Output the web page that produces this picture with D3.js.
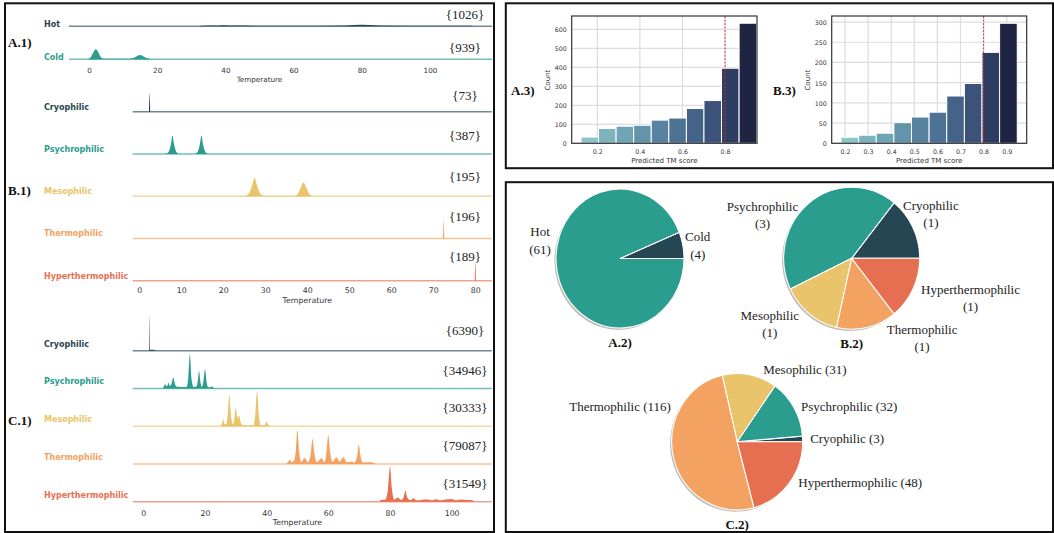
<!DOCTYPE html>
<html>
<head>
<meta charset="utf-8">
<script src="https://cdn.jsdelivr.net/npm/d3@7"></script>
<style>
  body { margin: 0; background: #fff; }
  svg { display: block; }
</style>
</head>
<body>
<svg id="fig" width="1054" height="533"></svg>
<script>
// ---------- data ----------
const classNames = ["Cryophilic", "Psychrophilic", "Mesophilic", "Thermophilic", "Hyperthermophilic"];
const classColors = ["#264653", "#2a9d8f", "#e9c46a", "#f4a261", "#e76f51"];

// A.1 ridge: [temperature, relative density]
const hotColdNames = ["Hot", "Cold"];
const hotColdCounts = [1026, 939];
const hotDensity = [[32,0],[33,0.06],[38,0.08],[40,0.1],[43,0.07],[60,0.06],[75,0.08],[80,0.15],[85,0.08],[100,0.06],[112,0.06],[113,0]];
const coldDensity = [[-0.5,0],[0.5,0.2],[1.3,0.7],[2,1],[2.7,0.7],[3.5,0.2],[4.5,0.05],[12,0.05],[13.5,0.2],[15,0.42],[16.5,0.18],[18,0.04],[20,0]];
const aTicks = [0, 20, 40, 60, 80, 100];

// B.1 ridge
const bCounts = [73, 387, 195, 196, 189];
const bCryo = [[2.3,0],[2.45,1],[2.6,0]];
const bPsychro = [[6.3,0],[7,0.12],[7.5,0.5],[7.9,1],[8.3,0.5],[8.8,0.12],[9.5,0],[13.2,0],[13.9,0.12],[14.4,0.5],[14.8,1],[15.2,0.5],[15.7,0.12],[16.4,0]];
const bMeso = [[25,0],[26,0.12],[26.8,0.55],[27.45,1],[28.1,0.55],[28.9,0.12],[30,0.01],[36.8,0.01],[37.7,0.1],[38.4,0.45],[39.1,0.75],[39.8,0.45],[40.5,0.1],[41.5,0]];
const bThermo = [[72.3,0],[72.45,1],[72.6,0]];
const bHyper = [[79.85,0],[80,1],[80.15,0]];
const bTicks = [0, 10, 20, 30, 40, 50, 60, 70, 80];

// C.1 ridge
const cCounts = [6390, 34946, 30333, 79087, 31549];
const cCryo = [[1.9,0],[2.04,1],[2.2,0.03],[3.6,0.03],[3.8,0]];
const cPsychro = [[6.3,0],[6.7,0.06],[7.1,0.13],[7.5,0.06],[7.9,0.1],[8.2,0.16],[8.6,0.07],[9.2,0.15],[9.7,0.31],[10.2,0.15],[10.8,0.05],[14,0.04],[14.6,0.3],[15.1,0.98],[15.6,0.3],[16.3,0.04],[17.3,0.06],[17.7,0.25],[18.1,0.5],[18.5,0.2],[19,0.05],[19.5,0.2],[20,0.55],[20.5,0.2],[21,0.04],[21.8,0.03],[22.2,0.06],[22.6,0.03],[23.8,0]];
const cMeso = [[25.2,0],[25.6,0.1],[25.9,0.2],[26.3,0.08],[26.9,0.05],[27.4,0.35],[27.9,0.9],[28.4,0.35],[29,0.05],[29.5,0.2],[30,0.52],[30.5,0.25],[31.1,0.3],[31.6,0.1],[32.5,0.03],[35.7,0.03],[36.3,0.3],[36.9,1],[37.5,0.3],[38.1,0.03],[39.3,0.03],[40,0.13],[40.6,0.03],[41,0]];
const cThermo = [[46.4,0],[47,0.06],[47.5,0.12],[48.1,0.05],[48.9,0.1],[49.5,0.4],[50,0.98],[50.5,0.4],[51.2,0.06],[52.4,0.17],[53.4,0.05],[54.3,0.3],[54.9,0.72],[55.5,0.3],[56.3,0.05],[57.8,0.16],[58.8,0.05],[59.4,0.35],[60,0.82],[60.6,0.35],[61.4,0.06],[62.6,0.19],[63.7,0.06],[64.9,0.19],[66,0.05],[67.4,0.06],[68.4,0.04],[69.4,0.25],[69.9,0.55],[70.4,0.25],[71.2,0.04],[72.5,0.05],[74,0.05],[75.3,0]];
const cHyper = [[76.6,0],[77,0.05],[78.5,0.06],[79.4,0.4],[80,1],[80.6,0.4],[81.4,0.06],[82.6,0.12],[83.6,0.05],[84.4,0.12],[85,0.31],[85.6,0.12],[86.6,0.04],[87.6,0.1],[88.6,0.04],[90,0.05],[92,0.06],[93.5,0.04],[95,0.07],[96.5,0.04],[98,0.06],[100,0.08],[101.5,0.04],[103,0.06],[105,0.05],[106.5,0.05],[107.3,0]];
const cTicks = [0, 20, 40, 60, 80, 100];

// A.3 / B.3 histograms of predicted TM score
const a3Counts = [33, 78, 90, 95, 122, 133, 183, 225, 395, 632];
const a3BinStart = 0.1235, a3BinWidth = 0.0825;
const a3XTicks = [0.2, 0.4, 0.6, 0.8];
const a3YTicks = [0, 100, 200, 300, 400, 500, 600];
const b3Counts = [15, 20, 25, 51, 65, 77, 117, 148, 225, 297];
const b3BinStart = 0.1827, b3BinWidth = 0.0763;
const b3XTicks = [0.2, 0.3, 0.4, 0.5, 0.6, 0.7, 0.8, 0.9];
const b3YTicks = [0, 50, 100, 150, 200, 250, 300];
const tmThreshold = 0.8;
const barColors = ["#8ec3c7","#7db3bc","#6ea4b3","#6294aa","#57839f","#4e7294","#456288","#3b5279","#2d3c61","#1f2442"];

// pies
const a2Labels = ["Cold", "Hot"];
const a2Values = [4, 61];
const a2Colors = ["#264653", "#2a9d8f"];
const b2Values = [1, 3, 1, 1, 1];
const c2Values = [3, 32, 31, 116, 48];

// ---------- drawing ----------
const svg = d3.select("#fig");
svg.append("rect").attr("width", 1054).attr("height", 533).attr("fill", "#fff");

const serif = "'Liberation Serif', 'DejaVu Serif', serif";
const sans = "'DejaVu Sans', sans-serif";

// panel frames
[[5, 3.3, 489, 528.7], [505.8, 3.3, 547.2, 164.9], [505.8, 182.2, 547.2, 349.8]].forEach(r => {
    svg.append("rect")
        .attr("x", r[0]).attr("y", r[1]).attr("width", r[2]).attr("height", r[3])
        .attr("fill", "none").attr("stroke", "#111").attr("stroke-width", 2);
});

function panelLabel(text, x, y, anchor) {
    svg.append("text")
        .attr("x", x).attr("y", y)
        .attr("text-anchor", anchor || "start")
        .attr("dominant-baseline", "central")
        .style("font-family", serif).style("font-weight", "bold").style("font-size", "13px")
        .attr("fill", "#111")
        .text(text);
}

function ridgePanel(cfg) {
    const x = d3.scaleLinear().domain(cfg.domain).range([cfg.x0, cfg.x1]);
    const g = svg.append("g");

    cfg.rows.forEach((row, i) => {
        const base = cfg.base0 + i * cfg.step;
        const y = d3.scaleLinear().domain([0, 1]).range([base, base - cfg.peakH]);
        const area = d3.area()
            .x(d => x(d[0]))
            .y0(base)
            .y1(d => y(d[1]))
            .curve(d3.curveMonotoneX);

        g.append("path")
            .datum(row.density)
            .attr("d", area)
            .attr("fill", row.color);

        g.append("line")
            .attr("x1", cfg.x0).attr("x2", cfg.x1)
            .attr("y1", base).attr("y2", base)
            .attr("stroke", row.color)
            .attr("stroke-opacity", 0.65)
            .attr("stroke-width", 1.5);

        g.append("text")
            .attr("x", 44).attr("y", base + cfg.labelDy)
            .attr("dominant-baseline", "central")
            .style("font-family", sans).style("font-weight", "bold").style("font-size", "8px")
            .attr("fill", row.color)
            .text(row.name);

        g.append("text")
            .attr("x", 465).attr("y", base + cfg.countDy(i))
            .attr("text-anchor", "middle")
            .attr("dominant-baseline", "central")
            .style("font-family", serif).style("font-size", "13px")
            .attr("fill", "#222")
            .text("{" + row.count + "}");
    });

    const ax = g.append("g")
        .attr("transform", `translate(0,${cfg.tickY})`)
        .call(d3.axisBottom(x).tickValues(cfg.ticks).tickSize(0).tickPadding(0));
    ax.select(".domain").remove();
    ax.selectAll("text")
        .attr("dy", null).attr("y", 0)
        .attr("dominant-baseline", "central")
        .style("font-family", sans).style("font-size", cfg.font + "px")
        .attr("fill", "#333");

    g.append("text")
        .attr("x", (x(cfg.ticks[0]) + x(cfg.ticks[cfg.ticks.length - 1])) / 2)
        .attr("y", cfg.titleY)
        .attr("text-anchor", "middle")
        .attr("dominant-baseline", "central")
        .style("font-family", sans).style("font-size", cfg.font + "px")
        .attr("fill", "#333")
        .text("Temperature");
}

ridgePanel({
    domain: [-5.87, 118.2], x0: 69, x1: 492,
    base0: 26.3, step: 33, peakH: 10, labelDy: -1.5,
    countDy: () => -11.6, tickY: 70.7, titleY: 79.3, font: 7.2, ticks: aTicks,
    rows: [
        { name: hotColdNames[0], color: classColors[0], density: hotDensity, count: hotColdCounts[0] },
        { name: hotColdNames[1], color: classColors[1], density: coldDensity, count: hotColdCounts[1] }
    ]
});

const bDens = [bCryo, bPsychro, bMeso, bThermo, bHyper];
ridgePanel({
    domain: [-1.57, 83.9], x0: 132.7, x1: 491.7,
    base0: 111.7, step: 42.25, peakH: 18.3, labelDy: -4.5,
    countDy: i => -(16 + 2.1 * i), tickY: 290, titleY: 300, font: 7.8, ticks: bTicks,
    rows: classNames.map((n, i) => ({ name: n, color: classColors[i], density: bDens[i], count: bCounts[i] }))
});

const cDens = [cCryo, cPsychro, cMeso, cThermo, cHyper];
ridgePanel({
    domain: [-3.44, 113], x0: 132.7, x1: 491.7,
    base0: 350.7, step: 37.75, peakH: 35, labelDy: -6.5,
    countDy: i => (i === 0 ? -20.7 : -18.3), tickY: 513.3, titleY: 522.7, font: 7.8, ticks: cTicks,
    rows: classNames.map((n, i) => ({ name: n, color: classColors[i], density: cDens[i], count: cCounts[i] }))
});

panelLabel("A.1)", 8, 42.7);
panelLabel("B.1)", 8, 190);
panelLabel("C.1)", 8, 420.7);

// ---------- histograms ----------
function histPanel(cfg) {
    const x = d3.scaleLinear().domain(cfg.xDomain).range([cfg.left, cfg.right]);
    const y = d3.scaleLinear().domain([0, cfg.yMax]).range([cfg.bottom, cfg.top]);
    const g = svg.append("g");

    g.selectAll("line.gy").data(cfg.yTicks).join("line")
        .attr("class", "gy")
        .attr("x1", cfg.left).attr("x2", cfg.right)
        .attr("y1", d => y(d)).attr("y2", d => y(d))
        .attr("stroke", "#dcdcdc").attr("stroke-width", 1.2);
    g.selectAll("line.gx").data(cfg.xTicks).join("line")
        .attr("class", "gx")
        .attr("x1", d => x(d)).attr("x2", d => x(d))
        .attr("y1", cfg.top).attr("y2", cfg.bottom)
        .attr("stroke", "#dcdcdc").attr("stroke-width", 1.2);

    g.selectAll("rect.bar").data(cfg.counts).join("rect")
        .attr("class", "bar")
        .attr("x", (d, i) => x(cfg.binStart + i * cfg.binWidth))
        .attr("width", x(cfg.binStart + cfg.binWidth) - x(cfg.binStart))
        .attr("y", d => y(d))
        .attr("height", d => cfg.bottom - y(d))
        .attr("fill", (d, i) => barColors[i])
        .attr("stroke", "#fff").attr("stroke-width", 1);

    g.append("line")
        .attr("x1", x(tmThreshold)).attr("x2", x(tmThreshold))
        .attr("y1", cfg.top).attr("y2", cfg.bottom)
        .attr("stroke", "#e8262a").attr("stroke-width", 0.9)
        .attr("stroke-dasharray", "2,1.5");

    g.append("rect")
        .attr("x", cfg.left).attr("y", cfg.top)
        .attr("width", cfg.right - cfg.left).attr("height", cfg.bottom - cfg.top)
        .attr("fill", "none").attr("stroke", "#333").attr("stroke-width", 1.2);

    const ax = g.append("g")
        .attr("transform", `translate(0,${cfg.bottom + 8})`)
        .call(d3.axisBottom(x).tickValues(cfg.xTicks).tickFormat(d3.format(".1f")).tickSize(0).tickPadding(0));
    ax.select(".domain").remove();
    ax.selectAll("text").attr("dy", null).attr("y", 0).attr("dominant-baseline", "central")
        .style("font-family", sans).style("font-size", "6.3px").attr("fill", "#333");

    const ay = g.append("g")
        .attr("transform", `translate(${cfg.left - 5},0)`)
        .call(d3.axisLeft(y).tickValues(cfg.yTicks).tickSize(0).tickPadding(0));
    ay.select(".domain").remove();
    ay.selectAll("text").attr("dy", null).attr("x", 0).attr("dominant-baseline", "central")
        .style("font-family", sans).style("font-size", "6.3px").attr("fill", "#333");

    g.append("text")
        .attr("transform", `translate(${cfg.countX},${(cfg.top + cfg.bottom) / 2 + 0.5}) rotate(-90)`)
        .attr("text-anchor", "middle").attr("dominant-baseline", "central")
        .style("font-family", sans).style("font-size", "7px").attr("fill", "#333")
        .text("Count");
    g.append("text")
        .attr("x", (cfg.left + cfg.right) / 2).attr("y", cfg.bottom + 17.4)
        .attr("text-anchor", "middle").attr("dominant-baseline", "central")
        .style("font-family", sans).style("font-size", "7px").attr("fill", "#333")
        .text("Predicted TM score");
}

histPanel({
    xDomain: [0.08, 0.95], left: 571.7, right: 757, top: 16, bottom: 143.3, yMax: 670,
    counts: a3Counts, binStart: a3BinStart, binWidth: a3BinWidth,
    xTicks: a3XTicks, yTicks: a3YTicks, countX: 547.7
});
histPanel({
    xDomain: [0.1424, 0.9866], left: 831.7, right: 1026.7, top: 16, bottom: 143.3, yMax: 315,
    counts: b3Counts, binStart: b3BinStart, binWidth: b3BinWidth,
    xTicks: b3XTicks, yTicks: b3YTicks, countX: 808.3
});
panelLabel("A.3)", 511, 90);
panelLabel("B.3)", 773, 90.7);

// ---------- pies ----------
function piePanel(cfg) {
    const k = cfg.ry / cfg.rx;
    const arcs = d3.pie().sort(null)
        .startAngle(Math.PI / 2)
        .endAngle(Math.PI / 2 - 2 * Math.PI)(cfg.values);
    const arc = d3.arc().innerRadius(0).outerRadius(cfg.rx);

    const g = svg.append("g").attr("transform", `translate(${cfg.cx},${cfg.cy}) scale(1,${k})`);
    g.append("g").attr("transform", "translate(-1.6,1.6)")
        .selectAll("path").data(arcs).join("path")
        .attr("d", arc).attr("fill", "#8c8478").attr("opacity", 0.55);
    g.selectAll("path.wedge").data(arcs).join("path")
        .attr("class", "wedge")
        .attr("d", arc)
        .attr("fill", (d, i) => cfg.colors[i])
        .attr("stroke", "#fff").attr("stroke-width", 1.1)
        .attr("vector-effect", "non-scaling-stroke");

    arcs.forEach((d, i) => {
        const m = (d.startAngle + d.endAngle) / 2;
        const side = Math.sin(m) >= 0 ? 1 : -1;
        const bx = cfg.cx + 1.1 * cfg.rx * Math.sin(m);
        const by = cfg.cy - 1.1 * cfg.ry * Math.cos(m);
        const lines = cfg.multiline
            ? [cfg.labels[i], "(" + cfg.values[i] + ")"]
            : [cfg.labels[i] + " (" + cfg.values[i] + ")"];
        const t = svg.append("g");
        const texts = lines.map((s, j) => t.append("text")
            .attr("text-anchor", "middle")
            .attr("dominant-baseline", "central")
            .attr("y", by + cfg.nudge[i][1] + (j - (lines.length - 1) / 2) * 17.2)
            .style("font-family", serif).style("font-size", "13px")
            .attr("fill", "#222")
            .text(s));
        const w = d3.max(texts, s => s.node().getComputedTextLength());
        const midX = bx + side * w / 2 + cfg.nudge[i][0];
        texts.forEach(s => s.attr("x", midX));
    });

    panelLabel(cfg.title, cfg.cx, cfg.cy + cfg.ry + 14, "middle");
}

piePanel({
    cx: 620, cy: 258.5, rx: 64, ry: 69.5, values: a2Values, labels: a2Labels, colors: a2Colors,
    multiline: true, title: "A.2)", nudge: [[-4, 1.7], [0, -32.7]]
});
piePanel({
    cx: 851.7, cy: 258.3, rx: 68, ry: 71, values: b2Values, labels: classNames, colors: classColors,
    multiline: true, title: "B.2)", nudge: [[-16, -10.7], [-6.8, 17.5], [-6, 5], [18.4, 3.6], [2, 5.5]]
});
piePanel({
    cx: 737.2, cy: 441.7, rx: 65.5, ry: 68.3, values: c2Values, labels: classNames, colors: classColors,
    multiline: false, title: "C.2)", nudge: [[1, 0], [1.3, 2.3], [12.4, 2], [3.6, -53.3], [4, -4.8]]
});
</script>
</body>
</html>
